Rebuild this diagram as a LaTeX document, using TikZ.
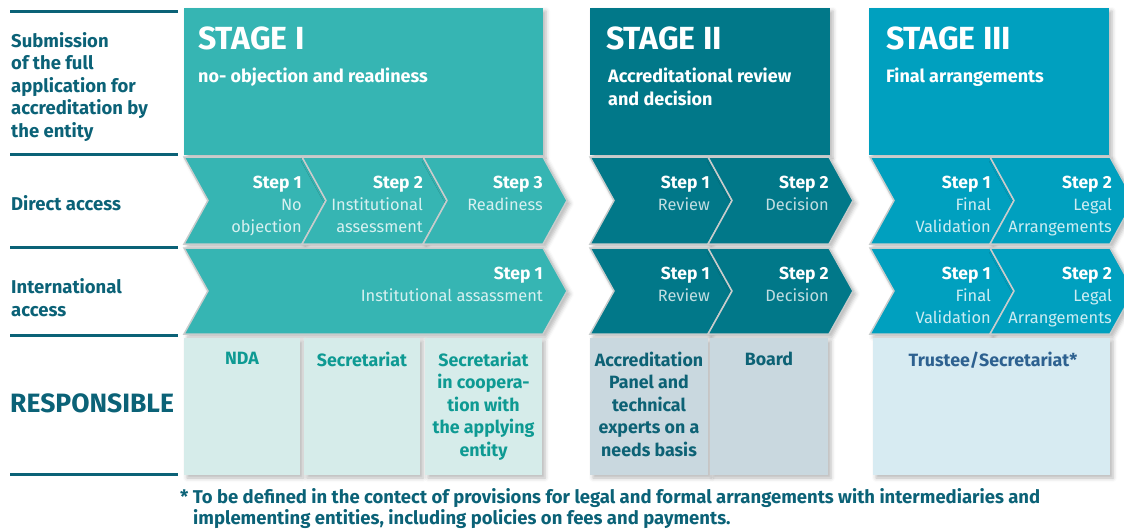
\documentclass[tikz,border=0pt]{standalone}
\usepackage{fontspec}
\setmainfont{Fira Sans}
\usetikzlibrary{shadows.blur}
\definecolor{stageI}{HTML}{36B5B3}
\definecolor{stageII}{HTML}{017889}
\definecolor{stageIII}{HTML}{00A0BF}
\definecolor{respI}{HTML}{D6ECEA}
\definecolor{respII}{HTML}{C9D8DF}
\definecolor{respIII}{HTML}{D7EBF2}
\definecolor{labelc}{HTML}{0B6277}
\definecolor{respItext}{HTML}{0E9A93}
\definecolor{respIItext}{HTML}{0D6275}
\definecolor{respIIItext}{HTML}{2D6190}
\definecolor{sepgray}{HTML}{C8CCCC}
\newcommand\stepfont{\fontsize{17.5}{22}\selectfont\bfseries}
\tikzset{
  shad/.style={blur shadow={shadow xshift=3pt,shadow yshift=-3pt,shadow opacity=28,shadow blur radius=4pt}},
  stagebox/.style={shad},
  chevron/.style={draw=sepgray,line width=1.5pt,line join=miter,shad},
  respbox/.style={shad},
  stagetitle/.style={anchor=base west,inner sep=0pt,text=white,font=\fontsize{32}{34}\selectfont\bfseries},
  stagesub/.style={anchor=base west,inner sep=0pt,text=white,align=left,font=\fontsize{18}{22.5}\selectfont\bfseries},
  steptext/.style={anchor=north east,inner sep=0pt,align=right,font=\fontsize{16.4}{22}\selectfont},
  leftlabel/.style={anchor=north west,inner sep=0pt,align=left,text=labelc,font=\fontsize{18.5}{22.5}\selectfont\bfseries},
  leftline/.style={draw=labelc,line width=3pt},
  resptext/.style={anchor=north,inner sep=0pt,align=center,font=\fontsize{17.8}{22.5}\selectfont\bfseries},
}
\newcommand\chevshape[5]{%
  \pgfmathsetmacro\cmid{(#3+#4)/2}%
  \filldraw[chevron,fill=#5] (#1,#3) -- (#2,#3) -- (#2+24,\cmid) -- (#2,#4) -- (#1,#4) -- (#1+24,\cmid) -- cycle;}
\newcommand\steplab[1]{\textcolor{white}{\stepfont #1}}
\begin{document}
\begin{tikzpicture}[x=1pt,y=-1pt]
\useasboundingbox (0,0) rectangle (1124,531);
% left lines
\foreach \yy in {11,154,247,335,474} \draw[leftline] (10,\yy) -- (178,\yy);
% left labels
\node[leftlabel] (lsub) at (11,32) {Submission\\of the full\\application for\\accreditation by\\the entity};
\node[leftlabel] (ldir) at (11,195) {Direct access};
\node[leftlabel] (lint) at (11,278.5) {International\\access};
\node[anchor=base west,inner sep=0pt,text=labelc,font=\fontsize{26.5}{28}\selectfont\bfseries] (lresp) at (10,412) {RESPONSIBLE};
% stage boxes
\fill[stagebox,stageI] (184,8) rectangle (543,155);
\fill[stagebox,stageII] (590,8) rectangle (830,155);
\fill[stagebox,stageIII] (869,8) rectangle (1109,155);
\node[stagetitle] (t1) at (198,49) {STAGE I};
\node[stagesub] (s1) at (198,82.5) {no- objection and readiness};
\node[stagetitle] (t2) at (606,49) {STAGE II};
\node[stagesub] (s2) at (608,105) {Accreditational review\\and decision};
\node[stagetitle] (t3) at (886,49) {STAGE III};
\node[stagesub] (s3) at (886,82.5) {Final arrangements};
% chevrons row 1
\chevshape{184}{302}{157}{244}{stageI}
\chevshape{302}{423}{157}{244}{stageI}
\chevshape{423}{543}{157}{244}{stageI}
\chevshape{590}{708}{157}{244}{stageII}
\chevshape{708}{829}{157}{244}{stageII}
\chevshape{870}{990}{157}{244}{stageIII}
\chevshape{990}{1110}{157}{244}{stageIII}
% chevrons row 2
\chevshape{184}{543}{248}{334}{stageI}
\chevshape{590}{708}{248}{334}{stageII}
\chevshape{708}{829}{248}{334}{stageII}
\chevshape{870}{990}{248}{334}{stageIII}
\chevshape{990}{1110}{248}{334}{stageIII}
% step texts row 1
\node[steptext,text=white!80!stageI] (a1) at (302,176) {\steplab{Step 1}\\No\\objection};
\node[steptext,text=white!80!stageI] (a2) at (423,176) {\steplab{Step 2}\\Institutional\\assessment};
\node[steptext,text=white!80!stageI] (a3) at (543,176) {\steplab{Step 3}\\Readiness};
\node[steptext,text=white!75!stageII] (b1) at (710,176) {\steplab{Step 1}\\Review};
\node[steptext,text=white!75!stageII] (b2) at (829,176) {\steplab{Step 2}\\Decision};
\node[steptext,text=white!80!stageIII] (c1) at (991,176) {\steplab{Step 1}\\Final\\Validation};
\node[steptext,text=white!80!stageIII] (c2) at (1112,176) {\steplab{Step 2}\\Legal\\Arrangements};
% step texts row 2
\node[steptext,text=white!80!stageI] (d1) at (543,267) {\steplab{Step 1}\\Institutional assassment};
\node[steptext,text=white!75!stageII] (e1) at (710,267) {\steplab{Step 1}\\Review};
\node[steptext,text=white!75!stageII] (e2) at (829,267) {\steplab{Step 2}\\Decision};
\node[steptext,text=white!80!stageIII] (f1) at (991,267) {\steplab{Step 1}\\Final\\Validation};
\node[steptext,text=white!80!stageIII] (f2) at (1112,267) {\steplab{Step 2}\\Legal\\Arrangements};
% responsible boxes
\fill[respbox,respI] (184,338) rectangle (300,475);
\fill[respbox,respI] (304,338) rectangle (420,475);
\fill[respbox,respI] (425,338) rectangle (542,475);
\fill[respbox,respII] (590,338) rectangle (708,475);
\fill[respbox,respII] (710,338) rectangle (828,475);
\fill[respbox,respIII] (873,338) rectangle (1110,475);
\node[resptext,text=respItext] (r1) at (242,351.5) {NDA};
\node[resptext,text=respItext] (r2) at (362,351.5) {Secretariat};
\node[resptext,text=respItext] (r3) at (483.5,351.5) {Secretariat\\in coopera-\\tion with\\the applying\\entity};
\node[resptext,text=respIItext] (r4) at (649,351.5) {Accreditation\\Panel and\\technical\\experts on a\\needs basis};
\node[resptext,text=respIItext] (r5) at (769,351.5) {Board};
\node[resptext,text=respIIItext] (r6) at (993,351.5) {Trustee/Secretariat*};
% footnote
\node[anchor=base west,inner sep=0pt,align=left,text=labelc,font=\fontsize{18.5}{19}\selectfont\bfseries] (fn) at (180,524) {* To be defined in the contect of provisions for legal and formal arrangements with intermediaries and\\\hspace*{13pt}implementing entities, including policies on fees and payments.};
\end{tikzpicture}
\end{document}
